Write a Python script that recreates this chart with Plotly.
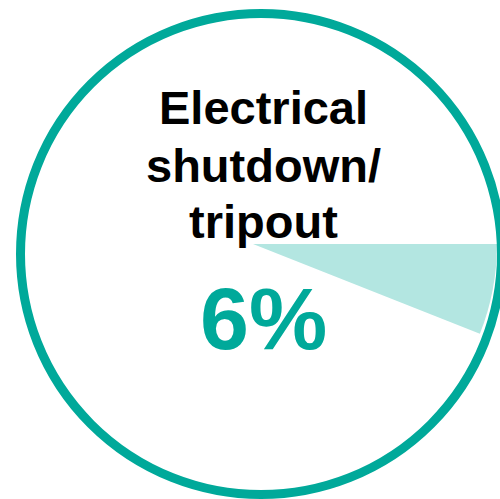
import plotly.graph_objects as go

# Share of incidents caused by electrical shutdown / tripout
categories = ["Electrical shutdown/tripout", "Other"]
shares = [6, 94]
title_lines = ["Electrical", "shutdown/", "tripout"]
value_label = f"{shares[0]}%"

TEAL = "#00A99A"
LIGHT_TEAL = "#B3E6E1"

W, H = 500, 499


def px_x(x):
    return x / W


def px_y(y):
    return 1 - y / H


fig = go.Figure()

# Pie: only the highlighted share is filled, the rest is transparent
fig.add_trace(go.Pie(
    labels=categories,
    values=shares,
    sort=False,
    direction="clockwise",
    rotation=90,
    marker=dict(colors=[LIGHT_TEAL, "rgba(0,0,0,0)"], line=dict(width=0)),
    textinfo="none",
    hoverinfo="skip",
    showlegend=False,
    domain=dict(x=[px_x(9), px_x(497)], y=[px_y(488), px_y(0)]),
))

# Outer ring
cx, cy, r = 261, 254, 240.5
fig.add_shape(
    type="circle", xref="paper", yref="paper",
    x0=px_x(cx - r), x1=px_x(cx + r),
    y0=px_y(cy + r), y1=px_y(cy - r),
    line=dict(color=TEAL, width=9),
    fillcolor="rgba(0,0,0,0)",
    layer="above",
)

# Category label, one annotation per line
title_font = dict(family="Liberation Sans, Arial, sans-serif", size=47, color="#000000")
for line, y_mid in zip(title_lines, [107, 165, 221.7]):
    fig.add_annotation(
        text=f"<b>{line}</b>", xref="paper", yref="paper",
        x=px_x(263.5), y=px_y(y_mid), xanchor="center", yanchor="middle",
        showarrow=False, font=title_font,
    )

# Percentage value
fig.add_annotation(
    text=f"<b>{value_label}</b>", xref="paper", yref="paper",
    x=px_x(263.5), y=px_y(318.5), xanchor="center", yanchor="middle",
    showarrow=False,
    font=dict(family="Liberation Sans, Arial, sans-serif", size=88, color=TEAL),
)

fig.update_layout(
    width=W, height=H,
    margin=dict(l=0, r=0, t=0, b=0),
    paper_bgcolor="white",
    plot_bgcolor="white",
    showlegend=False,
)

fig.write_html("out.html")
